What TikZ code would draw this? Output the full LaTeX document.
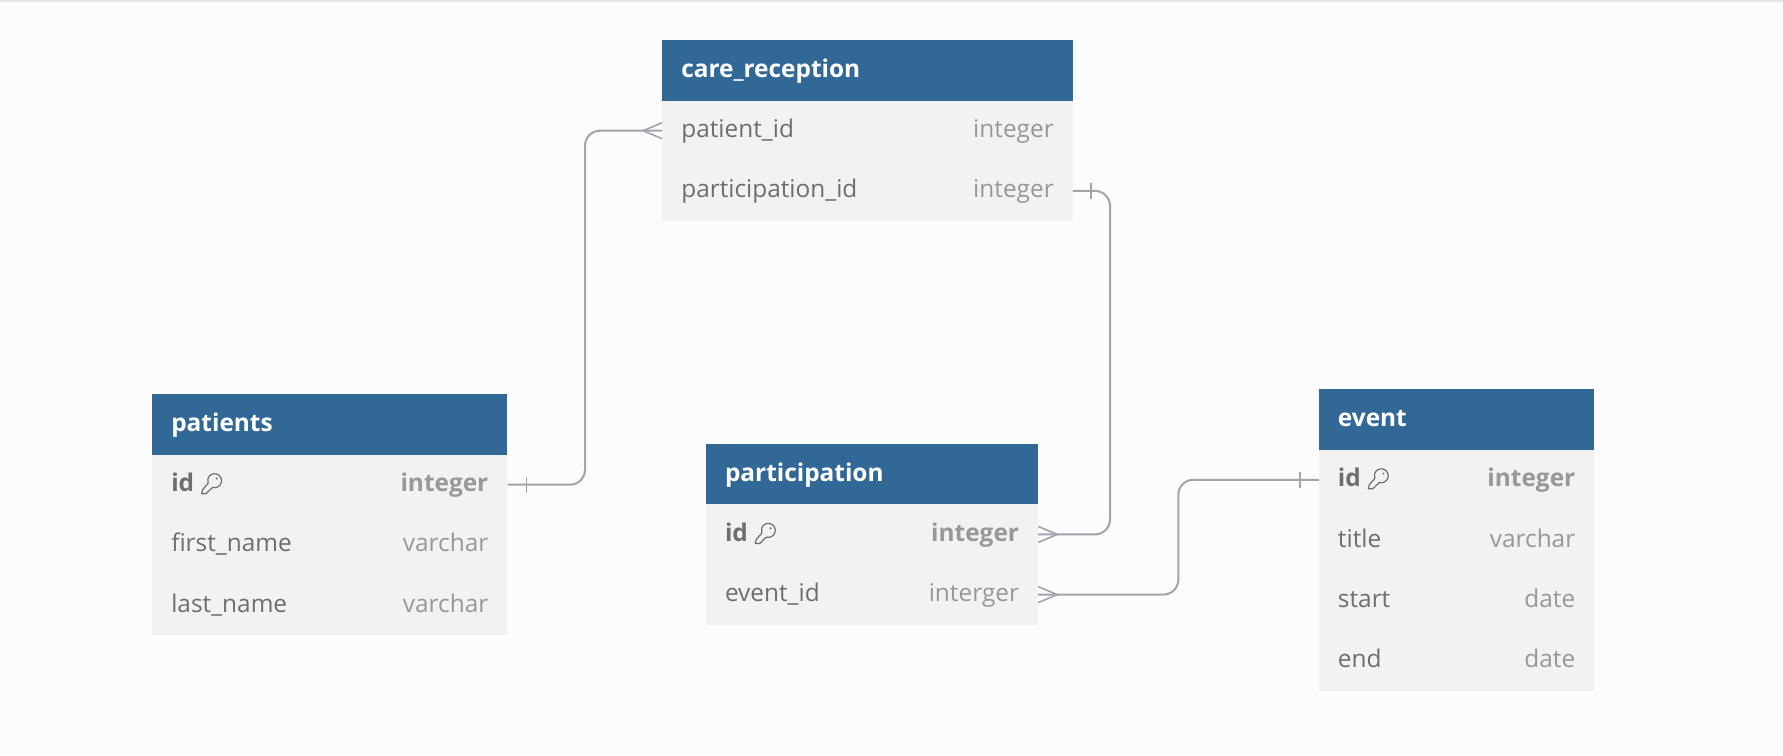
\documentclass[tikz,border=0pt]{standalone}
\usepackage{fontspec}
\setmainfont{Open Sans}
\usepackage{xcolor}
\usepackage{tikz}
\definecolor{pagebg}{HTML}{FCFCFC}
\definecolor{topbar}{HTML}{E4E4E4}
\definecolor{headblue}{HTML}{326896}
\definecolor{rowgray}{HTML}{F2F2F2}
\definecolor{nametext}{HTML}{6E6E6E}
\definecolor{typetext}{HTML}{989898}
\definecolor{linkgray}{HTML}{A3A3AC}
\tikzstyle{tablehead} = [rectangle, minimum height=60.4pt, inner xsep=19pt, inner ysep=0pt, text height=20pt, text depth=6pt, align=left, fill=headblue, text=white, font=\fontsize{24.4}{28}\selectfont\bfseries]
\tikzstyle{field} = [rectangle, minimum height=60.4pt, inner xsep=19pt, inner ysep=0pt, text height=20pt, text depth=6pt, align=left, fill=rowgray, text=nametext, font=\fontsize{24.4}{28}\selectfont]
\tikzstyle{keyfield} = [field, font=\fontsize{24.4}{28}\selectfont\bfseries]
\tikzstyle{ftype} = [anchor=east, inner xsep=19pt, inner ysep=0pt, text height=20pt, text depth=6pt, text=typetext, font=\fontsize{24.4}{28}\selectfont]
\tikzstyle{keytype} = [ftype, font=\fontsize{24.4}{28}\selectfont\bfseries]
\tikzstyle{link} = [draw=linkgray, line width=2pt]
\tikzstyle{linkend} = [draw=linkgray, line width=1.6pt]
\tikzset{keyicon/.pic={
   \draw [draw=nametext, line width=1.2pt, line join=round] (-2.05,6.69) arc[start angle=107, end angle=-202, radius=7] -- (-12,9) -- (-13,13) -- (-8.5,13) -- cycle;
   \fill [nametext] (2.2,-2.2) circle (1.1);
}}

\begin{document}
\begin{tikzpicture}[x=1pt, y=-1pt, node distance=60.2pt]
   \useasboundingbox (0,0) rectangle (1783,755);
   \fill [pagebg] (0,0) rectangle (1783,755);
   \fill [topbar] (0,0) rectangle (1783,2);

   \node (care) [tablehead, text width=372.4pt] at (867.5,70.5) {care\_reception};
   \node (carepat) [field, text width=372.4pt, below of=care] {patient\_id};
   \node (carepar) [field, text width=372.4pt, below of=carepat] {participation\_id};
   \node (carepatt) [ftype] at (carepat.east) {integer};
   \node (carepart) [ftype] at (carepar.east) {integer};

   \node (pat) [tablehead, text width=317pt] at (329.8,424.5) {patients};
   \node (patid) [keyfield, text width=317pt, below of=pat] {id};
   \node (patfirst) [field, text width=317pt, below of=patid] {first\_name};
   \node (patlast) [field, text width=317pt, below of=patfirst] {last\_name};
   \node (patidt) [keytype] at (patid.east) {integer};
   \node (patfirstt) [ftype] at (patfirst.east) {varchar};
   \node (patlastt) [ftype] at (patlast.east) {varchar};
   \pic at ([xshift=62.5pt,yshift=4pt]patid.west) {keyicon};

   \node (par) [tablehead, text width=294pt] at (872,474.2) {participation};
   \node (parid) [keyfield, text width=294pt, below of=par] {id};
   \node (parev) [field, text width=294pt, below of=parid] {event\_id};
   \node (paridt) [keytype] at (parid.east) {integer};
   \node (parevt) [ftype] at (parev.east) {interger};
   \pic at ([xshift=62.5pt,yshift=4pt]parid.west) {keyicon};

   \node (ev) [tablehead, text width=237.3pt] at (1456.6,419.6) {event};
   \node (evid) [keyfield, text width=237.3pt, below of=ev] {id};
   \node (evtitle) [field, text width=237.3pt, below of=evid] {title};
   \node (evstart) [field, text width=237.3pt, below of=evtitle] {start};
   \node (evend) [field, text width=237.3pt, below of=evstart] {end};
   \node (evidt) [keytype] at (evid.east) {integer};
   \node (evtitlet) [ftype] at (evtitle.east) {varchar};
   \node (evstartt) [ftype] at (evstart.east) {date};
   \node (evendt) [ftype] at (evend.east) {date};
   \pic at ([xshift=62.5pt,yshift=4pt]evid.west) {keyicon};

   \coordinate (bendpat) at (585,300);
   \coordinate (bendcare) at (1110,360);
   \coordinate (bendev) at (1178.3,530);

   \path [link, rounded corners=15pt] (patid.east) -| (bendpat) |- (carepat.west);
   \path [link, rounded corners=15pt] (carepar.east) -| (bendcare) |- (parid.east);
   \path [link, rounded corners=15pt] (parev.east) -| (bendev) |- (evid.west);

   % one side
   \path [linkend] ([xshift=19pt,yshift=8pt]patid.east) -- ([xshift=19pt,yshift=-8pt]patid.east);
   \path [linkend] ([xshift=18pt,yshift=8pt]carepar.east) -- ([xshift=18pt,yshift=-8pt]carepar.east);
   \path [linkend] ([xshift=-19pt,yshift=8pt]evid.west) -- ([xshift=-19pt,yshift=-8pt]evid.west);
   % many side
   \path [linkend] ([yshift=8pt]carepat.west) -- ([xshift=-19pt]carepat.west) -- ([yshift=-8pt]carepat.west);
   \path [linkend] ([yshift=8pt]parid.east) -- ([xshift=19pt]parid.east) -- ([yshift=-8pt]parid.east);
   \path [linkend] ([yshift=8pt]parev.east) -- ([xshift=19pt]parev.east) -- ([yshift=-8pt]parev.east);
\end{tikzpicture}
\end{document}
